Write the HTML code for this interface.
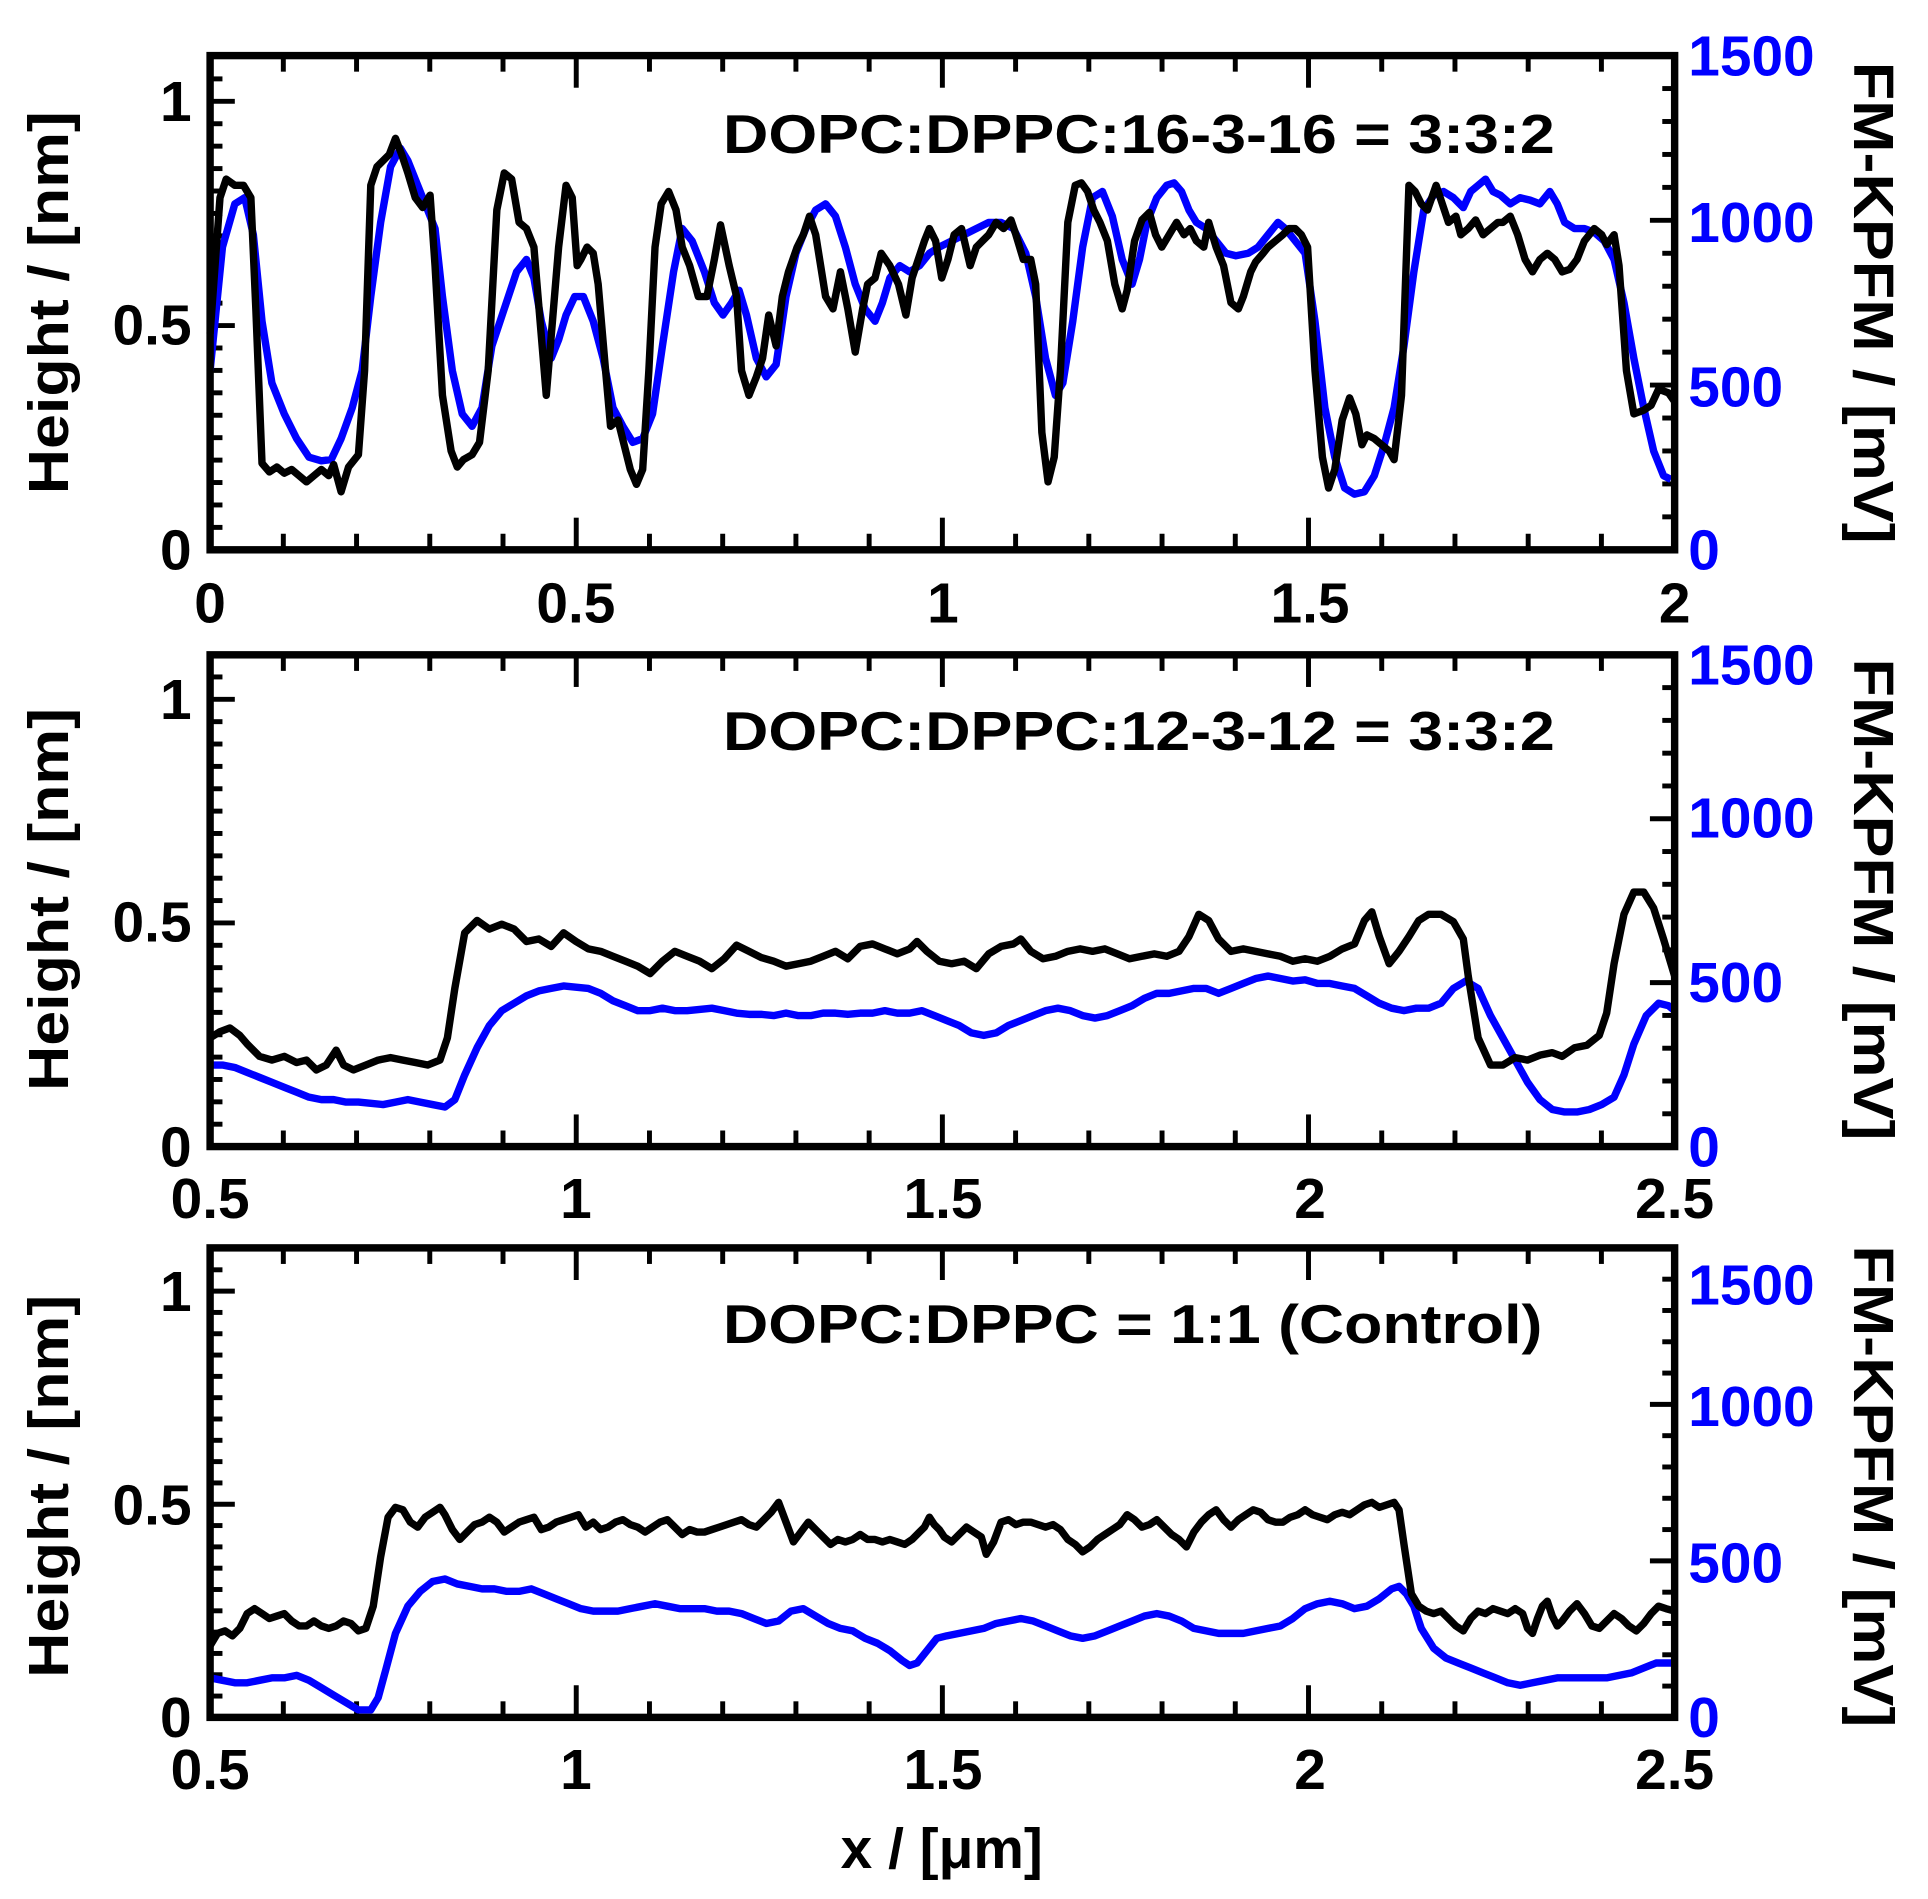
<!DOCTYPE html>
<html><head><meta charset="utf-8"><style>
html,body{margin:0;padding:0;background:#fff;}
svg{display:block;}
text{font-family:"Liberation Sans",Arial,sans-serif;font-weight:bold;}
</style></head><body>
<svg id="s" width="1928" height="1899" viewBox="0 0 1560 1537" preserveAspectRatio="none" xmlns="http://www.w3.org/2000/svg">
<g id="ticks" stroke="#000" stroke-width="4"></g>
<g fill="none" stroke-width="6" stroke-linejoin="round">
<polyline stroke="#0000ff" points="170,300 180,200 190,165 198,160 205,190 212,260 220,310 230,335 240,355 250,370 260,373 268,372 276,355 285,330 293,300 300,240 308,180 316,135 324,120 330,130 338,150 346,170 352,185 358,240 366,300 374,335 382,345 390,330 398,280 408,250 418,220 426,210 432,225 438,260 446,290 452,275 458,255 465,240 472,240 480,260 488,290 496,330 504,345 512,358 520,355 528,335 536,280 545,220 552,185 560,195 570,220 578,245 585,255 592,245 598,235 604,255 612,290 620,305 628,295 636,240 644,205 652,185 660,170 668,165 676,175 684,200 692,230 700,250 708,260 714,245 720,225 728,215 736,220 744,215 752,205 760,200 770,195 780,190 790,185 800,180 810,180 820,185 830,205 838,240 846,290 854,320 860,310 868,260 876,200 884,160 892,155 900,175 908,210 916,230 922,210 928,180 936,160 944,150 950,148 956,155 962,170 968,180 976,185 984,195 992,205 1000,207 1010,205 1018,200 1026,190 1034,180 1040,185 1048,195 1056,205 1064,260 1072,330 1080,370 1088,395 1096,400 1104,398 1112,385 1120,360 1128,330 1136,280 1144,220 1152,170 1160,158 1168,155 1176,160 1184,168 1190,155 1196,150 1202,145 1208,155 1214,158 1222,165 1230,160 1238,162 1246,165 1254,155 1260,165 1266,180 1274,185 1282,185 1290,188 1298,195 1306,210 1314,245 1322,290 1330,330 1338,365 1346,385 1352,388"/>
<polyline stroke="#000" points="170,270 178,160 183,145 190,150 197,150 203,160 207,250 212,375 218,382 224,378 230,383 236,380 242,385 248,390 254,385 260,380 266,385 270,376 276,398 282,378 290,368 295,300 300,150 305,135 310,130 315,125 320,112 325,125 330,140 336,160 342,168 348,158 352,215 358,320 365,365 370,378 375,372 382,368 388,358 395,300 402,170 408,140 414,145 420,180 426,185 432,200 437,260 442,320 447,260 452,200 458,150 463,160 467,215 470,210 475,200 480,205 484,230 490,300 494,345 500,340 505,360 510,380 515,392 520,380 525,300 530,200 535,165 541,155 547,170 552,200 558,215 565,240 572,240 578,210 583,182 590,215 596,240 600,300 606,320 612,305 617,290 622,255 628,280 633,240 638,220 645,200 650,190 655,175 660,190 668,240 674,250 680,220 686,250 692,285 698,250 702,230 708,225 713,205 720,215 727,230 733,255 738,225 743,210 748,195 752,185 757,195 762,225 767,210 772,190 778,185 785,215 790,200 795,195 800,190 806,180 812,185 818,178 822,190 828,210 834,210 838,230 843,350 848,390 853,370 858,300 864,180 870,150 875,148 880,155 885,170 890,180 896,195 902,230 908,250 912,235 918,195 924,178 930,172 935,190 940,200 946,190 952,180 958,190 963,185 968,195 974,200 978,180 984,200 990,215 996,245 1002,250 1006,240 1012,220 1016,212 1022,205 1026,200 1032,195 1038,190 1043,185 1048,185 1053,190 1058,200 1064,300 1070,370 1075,395 1080,380 1086,340 1092,322 1097,335 1102,360 1106,352 1112,355 1118,360 1124,365 1128,372 1134,320 1140,150 1145,155 1150,165 1155,170 1162,150 1167,165 1172,180 1178,175 1182,190 1188,185 1194,178 1200,190 1206,185 1212,180 1216,180 1222,175 1228,190 1234,210 1240,220 1246,210 1252,205 1258,210 1264,220 1270,218 1276,210 1282,195 1290,185 1296,190 1300,198 1306,190 1310,215 1316,300 1322,335 1330,332 1336,328 1342,315 1350,318 1355,325"/>
<polyline stroke="#0000ff" points="170,862 180,862 190,864 200,868 210,872 220,876 230,880 240,884 250,888 260,890 270,890 280,892 290,892 300,893 310,894 320,892 330,890 340,892 350,894 360,896 368,890 376,870 386,848 396,830 406,818 416,812 426,806 436,802 446,800 456,798 466,799 476,800 486,804 496,810 506,814 516,818 526,818 536,816 546,818 556,818 566,817 576,816 586,818 596,820 606,821 616,821 626,822 636,820 646,822 656,822 666,820 676,820 686,821 696,820 706,820 716,818 726,820 736,820 746,818 756,822 766,826 776,830 786,836 796,838 806,836 816,830 826,826 836,822 846,818 856,816 866,818 876,822 886,824 896,822 906,818 916,814 926,808 936,804 946,804 956,802 966,800 976,800 986,804 996,800 1006,796 1016,792 1026,790 1036,792 1046,794 1056,793 1066,796 1076,796 1086,798 1096,800 1106,806 1116,812 1126,816 1136,818 1146,816 1156,816 1166,812 1176,800 1186,794 1196,800 1206,822 1216,840 1226,858 1236,876 1246,890 1256,898 1266,900 1276,900 1286,898 1296,894 1306,888 1314,870 1322,845 1332,822 1342,812 1350,814 1355,818"/>
<polyline stroke="#000" points="170,840 178,835 186,832 194,838 200,845 210,855 220,858 230,855 240,860 248,858 256,866 264,862 272,850 278,862 286,866 296,862 306,858 316,856 326,858 336,860 346,862 356,858 362,840 368,800 376,755 386,745 396,752 406,748 416,752 426,762 436,760 446,766 456,755 466,762 476,768 486,770 496,774 506,778 516,782 526,788 536,778 546,770 556,774 566,778 576,784 586,776 596,765 606,770 616,775 626,778 636,782 646,780 656,778 666,774 676,770 686,776 696,766 706,764 716,768 726,772 736,768 742,762 750,770 760,778 770,780 780,778 790,784 800,772 810,766 820,764 826,760 834,770 844,776 854,774 864,770 874,768 884,770 894,768 904,772 914,776 924,774 934,772 944,774 954,770 962,758 970,740 978,745 986,760 996,770 1006,768 1016,770 1026,772 1036,774 1046,778 1056,776 1066,778 1076,774 1086,768 1096,764 1104,745 1110,738 1116,758 1124,780 1132,770 1140,758 1148,745 1156,740 1166,740 1176,746 1184,760 1188,790 1196,840 1206,862 1216,862 1226,856 1236,858 1246,854 1256,852 1264,855 1274,848 1284,846 1294,838 1300,820 1306,780 1314,740 1322,722 1330,722 1338,735 1346,760 1355,790"/>
<polyline stroke="#0000ff" points="170,1358 180,1360 190,1362 200,1362 210,1360 220,1358 230,1358 240,1356 250,1360 260,1366 270,1372 280,1378 290,1384 300,1384 306,1374 312,1352 320,1322 330,1300 340,1288 350,1280 360,1278 370,1282 380,1284 390,1286 400,1286 410,1288 420,1288 430,1286 440,1290 450,1294 460,1298 470,1302 480,1304 490,1304 500,1304 510,1302 520,1300 530,1298 540,1300 550,1302 560,1302 570,1302 580,1304 590,1304 600,1306 610,1310 620,1314 630,1312 640,1304 650,1302 660,1308 670,1314 680,1318 690,1320 700,1326 710,1330 720,1336 730,1344 736,1348 742,1346 750,1336 758,1326 766,1324 776,1322 786,1320 796,1318 806,1314 816,1312 826,1310 836,1312 846,1316 856,1320 866,1324 876,1326 886,1324 896,1320 906,1316 916,1312 926,1308 936,1306 946,1308 956,1312 966,1318 976,1320 986,1322 996,1322 1006,1322 1016,1320 1026,1318 1036,1316 1046,1310 1056,1302 1066,1298 1076,1296 1086,1298 1096,1302 1106,1300 1116,1294 1126,1286 1132,1284 1138,1290 1144,1300 1150,1318 1160,1334 1170,1342 1180,1346 1190,1350 1200,1354 1210,1358 1220,1362 1230,1364 1240,1362 1250,1360 1260,1358 1270,1358 1280,1358 1290,1358 1300,1358 1310,1356 1320,1354 1330,1350 1340,1346 1350,1346 1355,1346"/>
<polyline stroke="#000" points="170,1332 176,1322 182,1320 188,1324 194,1318 200,1306 206,1302 212,1306 218,1310 224,1308 230,1306 236,1312 242,1316 248,1316 254,1312 260,1316 266,1318 272,1316 278,1312 284,1314 290,1320 296,1318 302,1300 308,1260 314,1228 320,1220 326,1222 332,1232 338,1236 344,1228 350,1224 356,1220 360,1226 366,1238 372,1246 378,1240 384,1234 390,1232 396,1228 402,1232 408,1240 414,1236 420,1232 426,1230 432,1228 438,1238 444,1236 450,1232 456,1230 462,1228 468,1226 474,1236 480,1232 486,1238 492,1236 498,1232 504,1230 510,1234 516,1236 522,1240 528,1236 534,1232 540,1230 546,1236 552,1242 558,1238 564,1240 570,1240 576,1238 582,1236 588,1234 594,1232 600,1230 606,1234 612,1236 618,1230 624,1224 630,1216 636,1232 642,1248 648,1240 654,1232 660,1238 666,1244 672,1250 678,1246 684,1248 690,1246 696,1242 702,1246 708,1246 714,1248 720,1246 726,1248 732,1250 738,1246 744,1240 748,1236 752,1228 756,1234 760,1238 764,1244 770,1248 776,1242 782,1236 788,1240 794,1244 798,1258 804,1248 810,1232 816,1230 822,1234 828,1232 834,1232 840,1234 846,1236 852,1234 858,1238 864,1246 870,1250 876,1256 882,1252 888,1246 894,1242 900,1238 906,1234 912,1226 918,1230 924,1236 930,1234 936,1230 942,1236 948,1242 954,1246 960,1252 966,1240 972,1232 978,1226 984,1222 990,1230 996,1236 1002,1230 1008,1226 1014,1222 1020,1224 1026,1230 1032,1232 1038,1232 1044,1228 1050,1226 1056,1222 1062,1226 1068,1228 1074,1230 1080,1226 1086,1224 1092,1226 1098,1222 1104,1218 1110,1216 1116,1220 1122,1218 1128,1216 1132,1222 1136,1250 1142,1290 1148,1300 1154,1304 1160,1306 1166,1304 1172,1310 1178,1316 1184,1320 1190,1310 1196,1304 1202,1306 1208,1302 1214,1304 1220,1306 1226,1302 1232,1306 1236,1318 1240,1322 1244,1310 1248,1300 1252,1296 1256,1308 1260,1316 1264,1312 1270,1304 1276,1298 1282,1306 1288,1316 1294,1318 1300,1312 1306,1306 1312,1310 1318,1316 1324,1320 1330,1314 1336,1306 1342,1300 1348,1302 1355,1304"/>
</g>
<g fill="none" stroke="#000" stroke-width="6">
<rect x="170" y="45" width="1185" height="400"/>
<rect x="170" y="530" width="1185" height="398"/>
<rect x="170" y="1010" width="1185" height="380"/>
</g>
<g font-size="44" fill="#000">
<text x="585" y="124" textLength="673" lengthAdjust="spacingAndGlyphs">DOPC:DPPC:16-3-16 = 3:3:2</text>
<text x="585" y="607" textLength="673" lengthAdjust="spacingAndGlyphs">DOPC:DPPC:12-3-12 = 3:3:2</text>
<text x="585" y="1087" textLength="663" lengthAdjust="spacingAndGlyphs">DOPC:DPPC = 1:1 (Control)</text>
</g>
<g font-size="46" fill="#000" text-anchor="end">
<text x="155" y="98">1</text><text x="155" y="279">0.5</text><text x="155" y="461">0</text>
<text x="155" y="582">1</text><text x="155" y="762">0.5</text><text x="155" y="944">0</text>
<text x="155" y="1061">1</text><text x="155" y="1234">0.5</text><text x="155" y="1406">0</text>
</g>
<g font-size="46" fill="#0000ff">
<text x="1366" y="61">1500</text><text x="1366" y="196">1000</text><text x="1366" y="329">500</text><text x="1366" y="461">0</text>
<text x="1366" y="554">1500</text><text x="1366" y="678">1000</text><text x="1366" y="811">500</text><text x="1366" y="944">0</text>
<text x="1366" y="1056">1500</text><text x="1366" y="1154">1000</text><text x="1366" y="1281">500</text><text x="1366" y="1406">0</text>
</g>
<g font-size="46" fill="#000" text-anchor="middle">
<text x="170" y="504">0</text><text x="466" y="504">0.5</text><text x="763" y="504">1</text><text x="1060" y="504">1.5</text><text x="1355" y="504">2</text>
<text x="170" y="986">0.5</text><text x="466" y="986">1</text><text x="763" y="986">1.5</text><text x="1060" y="986">2</text><text x="1355" y="986">2.5</text>
<text x="170" y="1448">0.5</text><text x="466" y="1448">1</text><text x="763" y="1448">1.5</text><text x="1060" y="1448">2</text><text x="1355" y="1448">2.5</text>
<text x="762" y="1512" font-size="46">x / [μm]</text>
</g>
<g font-size="46" fill="#000" text-anchor="middle">
<text transform="translate(55,245) rotate(-90)" textLength="310" lengthAdjust="spacingAndGlyphs">Height / [nm]</text>
<text transform="translate(55,728) rotate(-90)" textLength="310" lengthAdjust="spacingAndGlyphs">Height / [nm]</text>
<text transform="translate(55,1203) rotate(-90)" textLength="310" lengthAdjust="spacingAndGlyphs">Height / [nm]</text>
<text transform="translate(1500,245) rotate(90)" textLength="390" lengthAdjust="spacingAndGlyphs">FM-KPFM / [mV]</text>
<text transform="translate(1500,728) rotate(90)" textLength="390" lengthAdjust="spacingAndGlyphs">FM-KPFM / [mV]</text>
<text transform="translate(1500,1203) rotate(90)" textLength="390" lengthAdjust="spacingAndGlyphs">FM-KPFM / [mV]</text>
</g>
</svg>
<script>
(function(){
var g=document.getElementById('ticks'),p='';
function L(x1,y1,x2,y2){p+='<line x1="'+x1+'" y1="'+y1+'" x2="'+x2+'" y2="'+y2+'"/>';}
var panels=[[45,445,82],[530,928,566],[1010,1390,1045]];
panels.forEach(function(pp){
 var t=pp[0],b=pp[1],y1=pp[2],u=b-y1;
 for(var i=0;i<=20;i++){var x=170+i*59.25;var len=(i%5==0)?26:13;L(x,t,x,t+len);L(x,b,x,b-len);}
 for(var v=0;v<=1.1;v+=0.05){var y=b-v*u;if(y<t+2)break;var m=Math.abs(v*2-Math.round(v*2))<1e-6;var len=m?20:10;L(170,y,170+len,y);}
 var ru=(b-t)/1500;
 for(var k=0;k<=1500;k+=100){var y=b-k*ru;var len=(k%500==0)?20:10;L(1355,y,1355-len,y);}
});
g.innerHTML=p;
})();
</script>
</body></html>
